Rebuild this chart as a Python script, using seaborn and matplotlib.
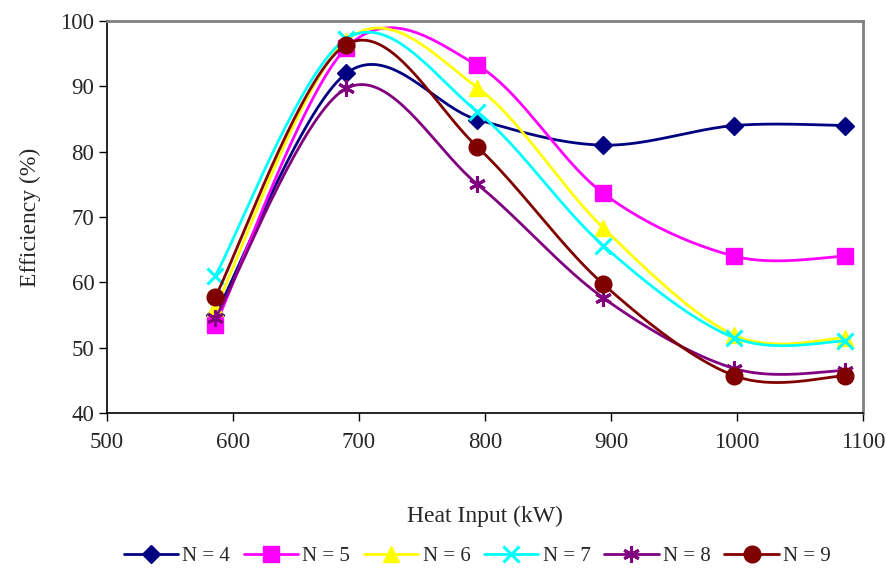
import numpy as np
import pandas as pd
import matplotlib
matplotlib.use("Agg")
import matplotlib.pyplot as plt
from matplotlib.lines import Line2D
import seaborn as sns

# heat input (kW) for each test point
heat_input = [586, 690, 794, 894, 998, 1086]

# efficiency (%) for each number of tubes N
eff_n4 = [55.0, 92.0, 84.9, 81.0, 84.0, 84.0]
eff_n5 = [53.5, 95.9, 93.2, 73.6, 64.0, 64.0]
eff_n6 = [56.0, 97.0, 89.8, 68.3, 51.9, 51.5]
eff_n7 = [61.0, 97.3, 86.1, 65.6, 51.5, 51.0]
eff_n8 = [54.5, 89.7, 75.0, 57.6, 46.8, 46.5]
eff_n9 = [57.8, 96.4, 80.7, 59.7, 45.7, 45.7]

labels = ["N = 4", "N = 5", "N = 6", "N = 7", "N = 8", "N = 9"]
series = [eff_n4, eff_n5, eff_n6, eff_n7, eff_n8, eff_n9]

colors = ["#000080", "#FF00FF", "#FFFF00", "#00FFFF", "#800080", "#800000"]
markers = ["D", "s", "^", "x", (6, 2, 0), "o"]
msizes = [9, 11, 12, 11, 12, 12]


def smooth(x, y, n=40):
    # Excel-style smoothed line: cubic bezier with Catmull-Rom control points
    x = np.asarray(x, float)
    y = np.asarray(y, float)
    px = np.concatenate([[x[0]], x, [x[-1]]])
    py = np.concatenate([[y[0]], y, [y[-1]]])
    t = np.linspace(0, 1, n)
    xs, ys = [], []
    for i in range(1, len(px) - 2):
        p0 = np.array([px[i], py[i]])
        p3 = np.array([px[i + 1], py[i + 1]])
        c1 = p0 + (np.array([px[i + 1], py[i + 1]]) - np.array([px[i - 1], py[i - 1]])) / 6
        c2 = p3 - (np.array([px[i + 2], py[i + 2]]) - np.array([px[i], py[i]])) / 6
        b = ((1 - t) ** 3)[:, None] * p0 + (3 * (1 - t) ** 2 * t)[:, None] * c1 \
            + (3 * (1 - t) * t ** 2)[:, None] * c2 + (t ** 3)[:, None] * p3
        xs.extend(b[:, 0])
        ys.extend(b[:, 1])
    return np.array(xs), np.array(ys)


sns.set_style("white")
plt.rcParams["font.family"] = ["Liberation Serif", "DejaVu Serif"]

fig = plt.figure(figsize=(8.87, 5.70), dpi=100)
ax = fig.add_axes([107 / 887, 1 - 413 / 570, 756 / 887, 392 / 570])

handles = []
for lab, vals, c, m, ms in zip(labels, series, colors, markers, msizes):
    sx, sy = smooth(heat_input, vals)
    sns.lineplot(x=sx, y=sy, ax=ax, color=c, lw=2, sort=False,
                 estimator=None, legend=False)
    df = pd.DataFrame({"x": heat_input, "y": vals})
    mew = 2.2 if m in ("x", (6, 2, 0)) else 1
    ax.plot(df["x"], df["y"], ls="none", marker=m, ms=ms, color=c,
            mec=c, mew=mew)
    handles.append(Line2D([0], [0], color=c, lw=2, marker=m, ms=ms, mec=c,
                          mew=mew))

ax.set_xlim(500, 1100)
ax.set_ylim(40, 100)
ax.set_xticks(range(500, 1101, 100))
ax.set_yticks(range(40, 101, 10))
ax.tick_params(axis="both", labelsize=16.5, direction="out", length=6,
               width=1, color="black", left=True, bottom=True)
ax.tick_params(axis="x", pad=8)
ax.tick_params(axis="y", pad=3)

for side in ["left", "bottom"]:
    ax.spines[side].set_color("black")
    ax.spines[side].set_linewidth(1.2)
for side in ["top", "right"]:
    ax.spines[side].set_color("#808080")
    ax.spines[side].set_linewidth(2)

ax.set_xlabel("Heat Input (kW)", fontsize=17, labelpad=38)
ax.set_ylabel("Efficiency (%)", fontsize=17, labelpad=14)

fig.legend(handles, labels, loc="center", bbox_to_anchor=(0.538, 1 - 556 / 570),
           ncol=6, frameon=False, fontsize=15, handlelength=2.6,
           handletextpad=0.2, columnspacing=0.67)

fig.savefig("out.png", dpi=100)
